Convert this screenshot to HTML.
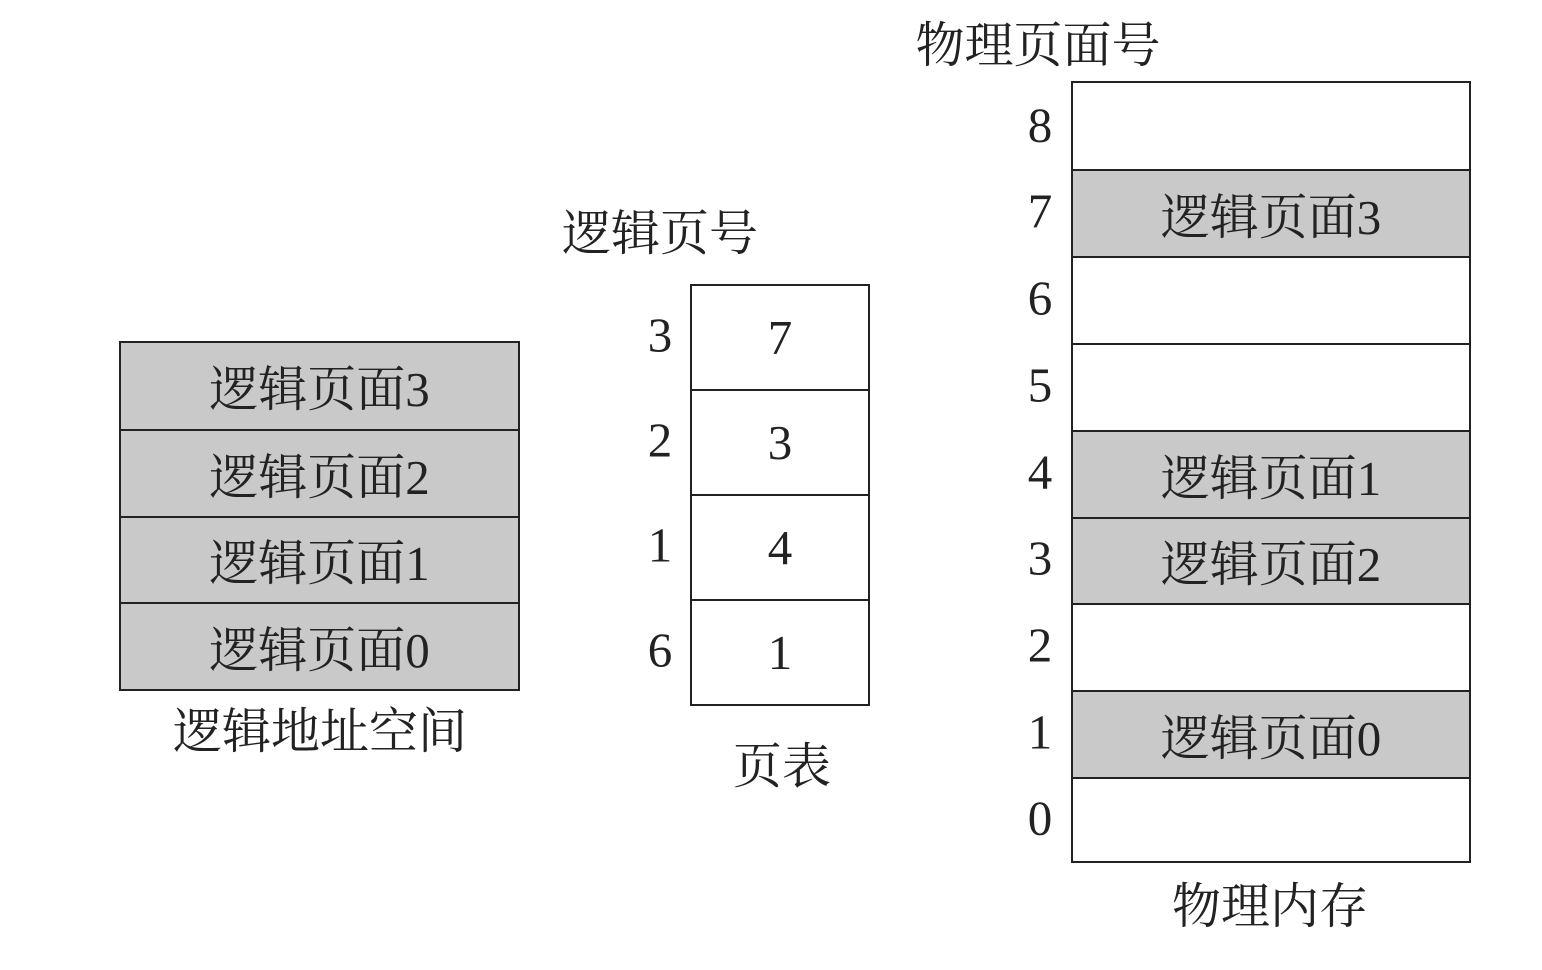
<!DOCTYPE html>
<html><head><meta charset="utf-8"><style>
html,body{margin:0;padding:0;background:#fff;}
body{width:1542px;height:970px;position:relative;overflow:hidden;font-family:"Liberation Serif","Noto Serif CJK SC",serif;color:#222;}
.b{position:absolute;border:2px solid #222;box-sizing:border-box;}
.r{position:absolute;left:0;right:0;border-bottom:2px solid #222;box-sizing:border-box;display:flex;align-items:center;justify-content:center;font-size:49px;}
.g{background:#c9c9c9;}
.t{position:absolute;font-size:49px;white-space:nowrap;transform:translate(-50%,-50%);}
</style></head><body>
<div class="b" style="left:119px;top:341px;width:401px;height:350px;">
<div class="r g" style="top:0;height:88px">逻辑页面3</div>
<div class="r g" style="top:88px;height:87px">逻辑页面2</div>
<div class="r g" style="top:175px;height:86px">逻辑页面1</div>
<div class="r g" style="top:261px;height:85px;border-bottom:none">逻辑页面0</div>
</div>
<div class="t" style="left:320px;top:728px">逻辑地址空间</div>
<div class="t" style="left:660px;top:230px">逻辑页号</div>
<div class="b" style="left:690px;top:284px;width:180px;height:422px;">
<div class="r" style="top:0;height:105px">7</div>
<div class="r" style="top:105px;height:105px">3</div>
<div class="r" style="top:210px;height:105px">4</div>
<div class="r" style="top:315px;height:103px;border-bottom:none">1</div>
</div>
<div class="t" style="left:660px;top:335px">3</div>
<div class="t" style="left:660px;top:440px">2</div>
<div class="t" style="left:660px;top:545px">1</div>
<div class="t" style="left:660px;top:650px">6</div>
<div class="t" style="left:782px;top:763px">页表</div>
<div class="t" style="left:1038px;top:42px">物理页面号</div>
<div class="b" style="left:1071px;top:81px;width:400px;height:782px;">
<div class="r" style="top:0;height:88px"></div>
<div class="r g" style="top:88px;height:87px">逻辑页面3</div>
<div class="r" style="top:175px;height:87px"></div>
<div class="r" style="top:262px;height:87px"></div>
<div class="r g" style="top:349px;height:87px">逻辑页面1</div>
<div class="r g" style="top:436px;height:86px">逻辑页面2</div>
<div class="r" style="top:522px;height:87px"></div>
<div class="r g" style="top:609px;height:87px">逻辑页面0</div>
<div class="r" style="top:696px;height:82px;border-bottom:none"></div>
</div>
<div class="t" style="left:1040px;top:125px">8</div>
<div class="t" style="left:1040px;top:211px">7</div>
<div class="t" style="left:1040px;top:298px">6</div>
<div class="t" style="left:1040px;top:385px">5</div>
<div class="t" style="left:1040px;top:472px">4</div>
<div class="t" style="left:1040px;top:558px">3</div>
<div class="t" style="left:1040px;top:645px">2</div>
<div class="t" style="left:1040px;top:732px">1</div>
<div class="t" style="left:1040px;top:818px">0</div>
<div class="t" style="left:1270px;top:903px">物理内存</div>
</body></html>
